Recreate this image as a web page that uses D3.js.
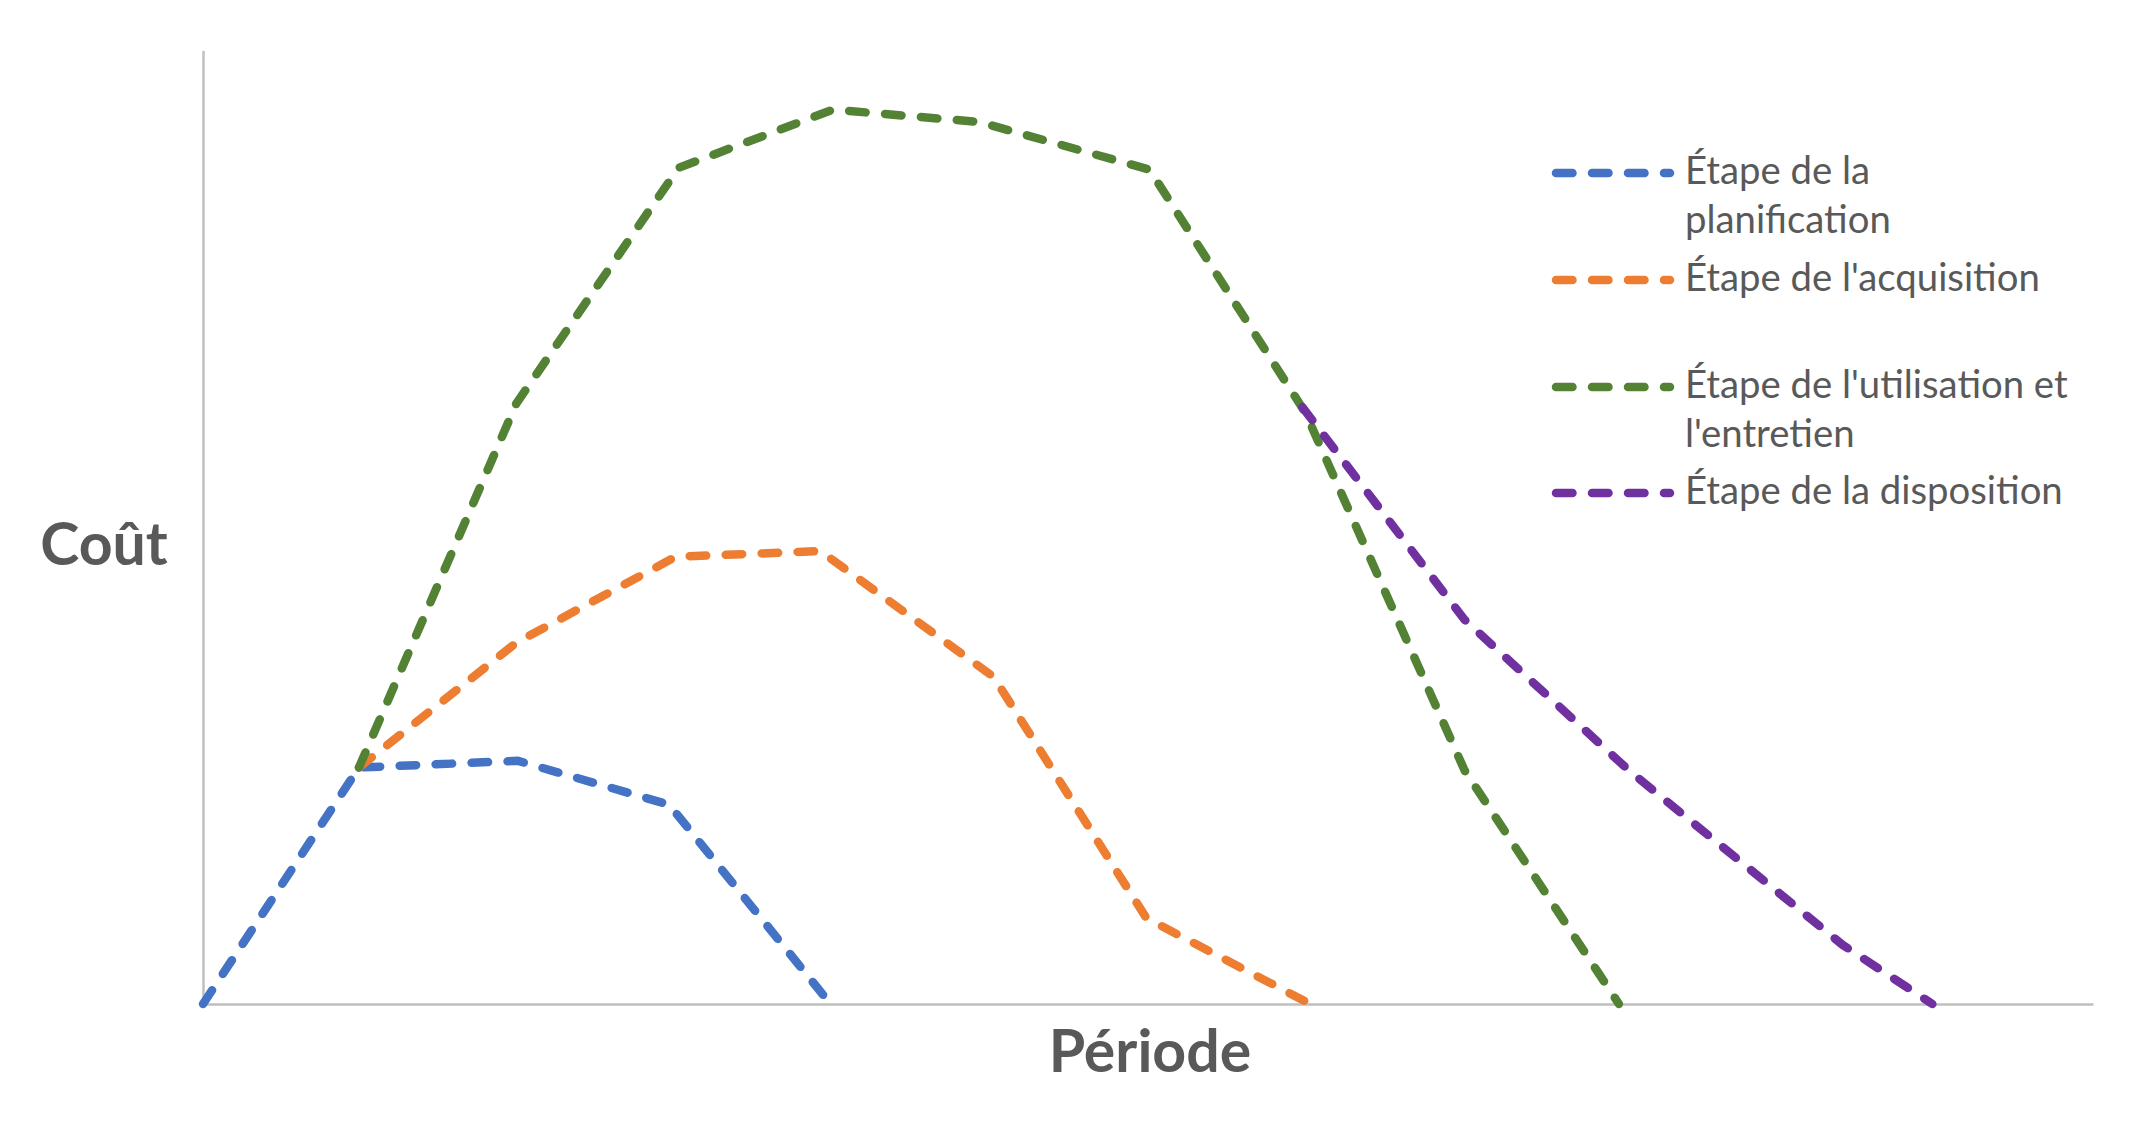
<!DOCTYPE html>
<html>
<head>
<meta charset="utf-8">
<script src="https://cdn.jsdelivr.net/npm/d3@7"></script>
<style>
  body { margin: 0; background: #fff; }
  svg { display: block; }
  text { font-family: Lato, "Open Sans", sans-serif; fill: #595959; }
</style>
</head>
<body>
<div id="chart"></div>
<script>
'use strict';

// legend labels (wrapped the same way as the original)
const seriesNames = [
  ['Étape de la', 'planification'],
  ["Étape de l'acquisition"],
  ["Étape de l'utilisation et", "l'entretien"],
  ['Étape de la disposition']
];
const seriesColors = ['#4472C4', '#ED7D31', '#548235', '#7030A0'];

// period (x) and cost (y)
const planX = [0, 0.99, 2.0, 2.96, 3.95];
const planY = [0, 24.8, 25.5, 20.9, 0.7];

const acqX = [0.99, 1.99, 3.0, 3.92, 5.02, 5.99, 7.03];
const acqY = [24.8, 37.9, 46.9, 47.5, 34.3, 9.0, 0];

const useX = [0.99, 1.99, 3.02, 4.0, 4.93, 6.01, 7.0, 8.01, 8.99];
const useY = [24.8, 63.0, 87.7, 93.8, 92.5, 87.5, 62.0, 24.5, 0];

const dispX = [6.98, 8.01, 9.06, 10.41, 10.98];
const dispY = [62.6, 40.3, 24.4, 6.2, 0];

const xTitle = 'Période';
const yTitle = 'Coût';

let width = 2145,
  height = 1147;

let svg = d3.select('#chart').append('svg')
  .attr('width', width)
  .attr('height', height);

let x = d3.scaleLinear()
  .domain([0, 12])
  .range([203, 2093]);

let y = d3.scaleLinear()
  .domain([0, 100])
  .range([1004, 50.5]);

// axes: plain grey lines, no ticks
let yAxis = d3.axisLeft(y).tickValues([]).tickSizeOuter(0);
let xAxis = d3.axisBottom(x).tickValues([]).tickSizeOuter(0);

svg.append('g')
  .attr('transform', `translate(${x(0)},0)`)
  .call(yAxis)
  .select('.domain')
  .attr('stroke', '#bfbfbf')
  .attr('stroke-width', 2.5);

svg.append('g')
  .attr('transform', `translate(0,${y(0)})`)
  .call(xAxis)
  .select('.domain')
  .attr('stroke', '#bfbfbf')
  .attr('stroke-width', 2.5);

let allSeries = [
  planX.map((c, i) => ({x: c, y: planY[i]})),
  acqX.map((c, i) => ({x: c, y: acqY[i]})),
  useX.map((c, i) => ({x: c, y: useY[i]})),
  dispX.map((c, i) => ({x: c, y: dispY[i]}))
];

let line = d3.line()
  .x(d => x(d.x))
  .y(d => y(d.y));

const lw = 8.5,
  dash = '16.5 19.5';

svg.selectAll('path.series')
  .data(allSeries)
  .enter().append('path')
    .attr('class', 'series')
    .attr('d', line)
    .attr('fill', 'none')
    .attr('stroke', (d, i) => seriesColors[i])
    .attr('stroke-width', lw)
    .attr('stroke-dasharray', dash)
    .attr('stroke-linecap', 'round')
    .attr('stroke-linejoin', 'round');

// legend
let legendRowY = [173, 280, 387, 493];
let legend = svg.append('g');

seriesNames.forEach((lines, i) => {
  let g = legend.append('g').attr('transform', `translate(0,${legendRowY[i]})`);
  g.append('line')
    .attr('x1', 1556).attr('x2', 1670)
    .attr('y1', 0).attr('y2', 0)
    .attr('stroke', seriesColors[i])
    .attr('stroke-width', lw)
    .attr('stroke-dasharray', dash)
    .attr('stroke-linecap', 'round');
  lines.forEach((t, j) => {
    g.append('text')
      .attr('x', 1685)
      .attr('y', 11 + j * 49)
      .style('font-size', '38.3px')
      .text(t);
  });
});

// axis titles
svg.append('text')
  .attr('x', 104)
  .attr('y', 565)
  .attr('text-anchor', 'middle')
  .style('font-size', '59px')
  .style('font-weight', 'bold')
  .text(yTitle);

svg.append('text')
  .attr('x', 1150)
  .attr('y', 1072)
  .attr('text-anchor', 'middle')
  .style('font-size', '59px')
  .style('font-weight', 'bold')
  .text(xTitle);
</script>
</body>
</html>
